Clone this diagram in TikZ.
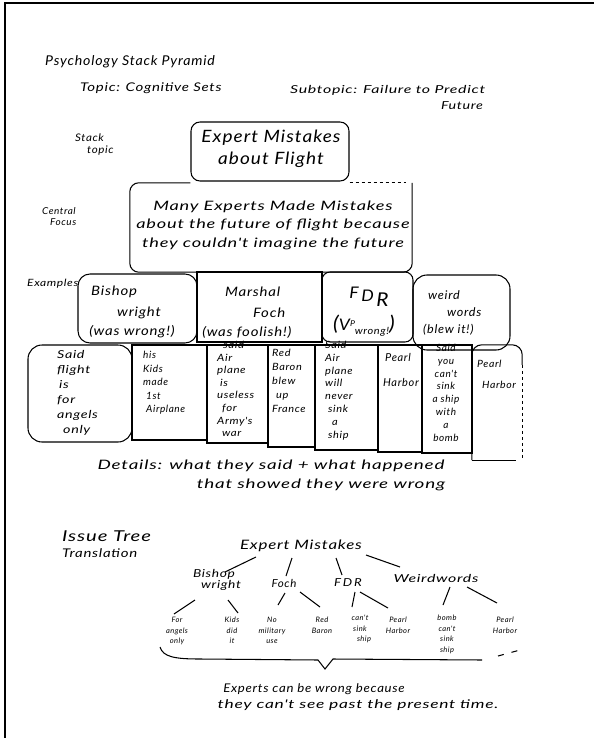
\documentclass[tikz,border=0pt]{standalone}
\usepackage{fontspec}
\usetikzlibrary{calc}
\newfontfamily\hand[LetterSpace=6]{Lato}
\begin{document}
\begin{tikzpicture}[x=1pt,y=-1pt]
\tikzset{
  hnd/.style={inner sep=0pt, text=black},
  tx/.style n args={3}{hnd, font=\hand\itshape\fontsize{#1}{#2}\selectfont\addfontfeatures{FakeStretch=#3}},
  pen/.style={draw, line width=1.05pt},
  twig/.style={line width=1.05pt},
}
\useasboundingbox (0,0) rectangle (594,738);
\fill[white] (0,0) rectangle (594,738);
% frame
\draw[line width=1.2pt] (5,738) -- (5,3) -- (594,3);

% headings
\node[tx={13.5}{16}{1.05}, anchor=west] (title) at (45,62) {Psychology Stack Pyramid};
\node[tx={12}{14}{1.25}, anchor=west] (topicline) at (80,88) {Topic: Cognitive Sets};
\node[tx={11}{14}{1.45}, anchor=west] (subtopic) at (290,90) {Subtopic: Failure to Predict};
\node[tx={11}{14}{1.3}] (future) at (462,106) {Future};
\node[tx={10.5}{12}{1.1}, align=left, anchor=west] (stacklbl) at (75,145) {Stack\\\hspace*{12pt}topic};
\node[tx={9.5}{11}{1.05}, align=left, anchor=west] (focuslbl) at (42,217) {Central\\\hspace*{8pt}Focus};
\node[tx={10}{12}{1.2}, anchor=west] (exlbl) at (27,284) {Examples};

% stack topic
\node[pen, rounded corners=9pt, minimum width=158, minimum height=59] (topic) at (270,151.5) {};
\node[tx={17}{22}{1.12}, align=center] (topictxt) at (271,149) {Expert Mistakes\\about Flight};

% central focus
\node[minimum width=282, minimum height=89, inner sep=0pt] (focus) at (271,227.5) {};
\draw[line width=1.05pt, rounded corners=9pt] (topic.south west |- focus.north) -- (focus.north west) -- (focus.south west) -- (focus.south east) -- (focus.north east);
\draw[line width=1.05pt, dashed] (topic.south east |- focus.north) -- ([xshift=-6pt]focus.north east);
\node[tx={13}{18.5}{1.4}, align=center] (focustxt) at (273,225) {Many Experts Made Mistakes\\about the future of flight because\\they couldn't imagine the future};

% examples row
\node[pen, rounded corners=12pt, minimum width=119, minimum height=69] (bw) at (137.5,308.5) {};
\node[pen, minimum width=125, minimum height=70] (foch) at (259.5,307) {};
\node[pen, rounded corners=8pt, minimum width=91, minimum height=70] (fdr) at (367.5,307) {};
\node[pen, rounded corners=14pt, minimum width=97, minimum height=75] (ww) at (461.5,312.5) {};

\node[tx={13}{16}{1.15}, anchor=west] (bw1) at (91,292) {Bishop};
\node[tx={13}{16}{1.15}, anchor=west] (bw2) at (117,313) {wright};
\node[tx={13}{16}{1.15}] (bw3) at (132,332) {(was wrong!)};
\node[tx={13}{16}{1.15}, anchor=west] (fo1) at (225,292) {Marshal};
\node[tx={13}{16}{1.15}, anchor=west] (fo2) at (253,313) {Foch};
\node[tx={13}{16}{1.15}] (fo3) at (247,332) {(was foolish!)};
\node[tx={16}{18}{1.1}] (fd1) at (369,297) {F\,\raisebox{-3pt}{D}\,\raisebox{-8pt}{\fontsize{19}{19}\selectfont R}};
\node[tx={16}{18}{1.1}] (fd2) at (364,326) {{\fontsize{20}{20}\selectfont(}V\raisebox{4pt}{\fontsize{8}{8}\selectfont P}\raisebox{-4pt}{\fontsize{10}{10}\selectfont wrong!}{\fontsize{20}{20}\selectfont)}};
\node[tx={12}{14}{1.05}, anchor=west] (ww1) at (428,295) {weird};
\node[tx={12}{14}{1.05}, anchor=west] (ww2) at (447,312) {words};
\node[tx={12}{14}{1.05}, anchor=west] (ww3) at (423,330) {(blew it!)};

% details row
\node[pen, rounded corners=14pt, minimum width=104, minimum height=97] (d1) at (80,393.5) {};
\node[pen, minimum width=75, minimum height=95] (d2) at (169.5,392.5) {};
\node[pen, minimum width=61, minimum height=98] (d3) at (237.5,394) {};
\node[pen, minimum width=47, minimum height=102] (d4) at (291.5,396) {};
\node[pen, minimum width=63, minimum height=105] (d5) at (346.5,397.5) {};
\node[pen, minimum width=44, minimum height=107] (d6) at (400,398.5) {};
\node[pen, minimum width=50, minimum height=108] (d7) at (447,399) {};
\node[minimum width=50, minimum height=115, inner sep=0pt] (d8) at (497,402.5) {};
\draw[line width=1.05pt, rounded corners=10pt] (d8.south west) -- (d8.north west) -- (d8.north east) -- ([yshift=-20pt]d8.north east);
\draw[line width=1.05pt, dashed] ([yshift=-20pt]d8.north east) -- (d8.south east);
\draw[line width=1.05pt] (d8.south west) -- ([xshift=-6pt]d8.south east);

\node[tx={11}{15}{1.3}, align=left, anchor=north west] (d1t) at (57,350) {Said\\flight\\\hspace*{2pt}is\\for\\angels\\\hspace*{6pt}only};
\node[tx={10}{13.5}{1.0}, align=left, anchor=north west] (d2t) at (143,351) {his\\Kids\\made\\\hspace*{3pt}1st\\\hspace*{3pt}Airplane};
\node[tx={10}{12.6}{1.15}, align=left, anchor=north west] (d3t) at (217,341) {\hspace*{6pt}said\\Air\\plane\\\hspace*{3pt}is\\useless\\\hspace*{5pt}for\\Army's\\\hspace*{5pt}war};
\node[tx={10}{14}{1.1}, align=left, anchor=north west] (d4t) at (272,349) {Red\\Baron\\blew\\\hspace*{4pt}up\\France};
\node[tx={10}{12.8}{1.1}, align=left, anchor=north west] (d5t) at (325,341) {Said\\Air\\plane\\will\\never\\\hspace*{3pt}sink\\\hspace*{7pt}a\\\hspace*{3pt}ship};
\node[tx={11}{25}{1.0}, align=left, anchor=north west] (d6t) at (383,353) {\hspace*{2pt}Pearl\\Harbor};
\node[tx={10}{12.8}{1.0}, align=center, anchor=north] (d7t) at (446,344) {Said\\you\\can't\\sink\\a ship\\with\\a\\bomb};
\node[tx={10}{21}{1.05}, align=left, anchor=north west] (d8t) at (477,360) {Pearl\\\hspace*{5pt}Harbor};

\node[tx={13}{16}{1.45}] (det1) at (271,466) {Details: what they said + what happened};
\node[tx={13}{16}{1.45}] (det2) at (321,485) {that showed they were wrong};

% issue tree
\node[tx={15}{18}{1.35}, anchor=west] (it1) at (62,536) {Issue Tree};
\node[tx={12}{14}{1.25}, anchor=west] (it2) at (62,553) {Translation};

\node[tx={13}{16}{1.3}] (root) at (301,546) {Expert Mistakes};
\node[tx={11}{11}{1.25}, align=left] (tb) at (217,580) {Bishop\\\hspace*{8pt}wright};
\node[tx={11}{12}{1.05}] (tf) at (284,583) {Foch};
\node[tx={11}{12}{1.2}] (tfdr) at (348,583) {F\,D\,R};
\node[tx={11}{12}{1.45}] (tww) at (436,578) {Weirdwords};

\node[tx={7.5}{10.5}{1.0}, align=center, anchor=north] (g1) at (177,617) {For\\angels\\only};
\node[tx={7.5}{10.5}{1.0}, align=center, anchor=north] (g2) at (232,617) {Kids\\did\\it};
\node[tx={7.5}{10.5}{1.0}, align=center, anchor=north] (g3) at (272,617) {No\\military\\use};
\node[tx={7.5}{10.5}{1.0}, align=center, anchor=north] (g4) at (322,617) {Red\\Baron};
\node[tx={7.5}{10.5}{1.0}, align=center, anchor=north] (g5) at (360,615) {can't\\sink\\\hspace*{8pt}ship};
\node[tx={7.5}{10.5}{1.0}, align=center, anchor=north] (g6) at (398,617) {Pearl\\Harbor};
\node[tx={7.5}{10.5}{1.0}, align=center, anchor=north] (g7) at (447,615) {bomb\\can't\\sink\\ship};
\node[tx={7.5}{10.5}{1.0}, align=center, anchor=north] (g8) at (505,617) {Pearl\\Harbor};

\draw[twig] ($(root)+(-45,11)$) -- ($(tb)+(8,-8)$);
\draw[twig] ($(root)+(-9,12)$) -- ($(tf)+(2,-7)$);
\draw[twig] ($(root)+(35,12)$) -- ($(tfdr)+(-6,-8)$);
\draw[twig] ($(root)+(65,9)$) -- ($(tww)+(-36,-11)$);

\draw[twig] ($(tb)+(-22,20)$) -- ($(g1.north)+(-3,-3)$);
\draw[twig] ($(tb)+(11,20)$) -- ($(g2.north)+(6,-4)$);
\draw[twig] ($(tf)+(1,10)$) -- ($(g3.north)+(6,-12)$);
\draw[twig] ($(tf)+(16,9)$) -- ($(g4.north)+(-2,-10)$);
\draw[twig] ($(tfdr)+(7,9)$) -- ($(g5.north)+(-8,-8)$);
\draw[twig] ($(tfdr)+(12,9)$) -- ($(g6.north)+(-10,-9)$);
\draw[twig] ($(tww)+(14,9)$) -- ($(g7.north)+(-4,-10)$);
\draw[twig] ($(tww)+(31,9)$) -- ($(g8.north)+(-8,-14)$);

% brace
\draw[line width=1.05pt] (160,647) .. controls (163,657) and (175,659) .. (200,659) -- (318,660) -- (325,669) -- (333,659) -- (482,660);
\draw[line width=1.05pt, dash pattern=on 6pt off 8pt] (498,656) -- (520,650);

\node[tx={12}{15}{1.1}] (concl1) at (314,689) {Experts can be wrong because};
\node[tx={12}{15}{1.45}] (concl2) at (358,705) {they can't see past the present time.};
\end{tikzpicture}
\end{document}
